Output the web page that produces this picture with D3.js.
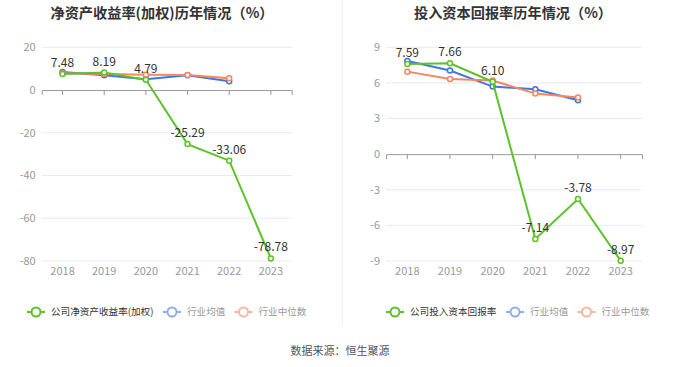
<!DOCTYPE html>
<html><head><meta charset="utf-8">
<script src="https://cdn.jsdelivr.net/npm/d3@7"></script>
<style>body{margin:0;background:#fff}svg{display:block;font-family:"Noto Sans CJK SC","Noto Sans",sans-serif}</style>
</head><body>
<svg id="c" width="680" height="367"></svg>
<script>
const years = ["2018","2019","2020","2021","2022","2023"];
const roeCompany = [7.48, 8.19, 4.79, -25.29, -33.06, -78.78];
const roeAvg = [8.4, 6.9, 5.0, 6.9, 4.1];
const roeMedian = [7.8, 7.5, 7.2, 7.0, 5.5];
const roicCompany = [7.59, 7.66, 6.10, -7.14, -3.78, -8.97];
const roicAvg = [7.85, 7.04, 5.69, 5.47, 4.54];
const roicMedian = [6.95, 6.34, 6.2, 5.1, 4.77];
const roeTicks = [-80, -60, -40, -20, 0, 20];
const roicTicks = [-9, -6, -3, 0, 3, 6, 9];

const GREEN = "#5cc22a", BLUE = "#3f76e4", ORANGE = "#f6875e";
const svg = d3.select("#c");

function panel(o) {
  const g = svg.append("g");
  const x = d3.scaleBand().domain(years).range([o.x0, o.x1]).padding(0);
  const y = d3.scaleLinear().domain([o.ticks[0], o.ticks[o.ticks.length-1]]).range([261, 47.3]);
  g.append("g").selectAll("line").data(o.ticks.filter(t => t !== 0)).join("line")
    .attr("x1", o.x0).attr("x2", o.x1).attr("y1", d => y(d)).attr("y2", d => y(d))
    .attr("stroke", "#e6eaf2").attr("stroke-width", 1);
  g.append("g").selectAll("text").data(o.ticks).join("text")
    .attr("x", o.x0 - 6).attr("y", d => y(d)).attr("dy", "0.35em")
    .attr("text-anchor", "end").attr("font-size", 11).attr("fill", "#999").text(d => d);
  const ax = g.append("g").attr("transform", `translate(0,${y(0)})`)
    .call(d3.axisBottom(x).tickSize(5).tickFormat(""));
  ax.select(".domain").attr("stroke", "#999");
  ax.selectAll(".tick line").attr("stroke", "#999");
  g.append("g").selectAll("text").data(years).join("text")
    .attr("x", d => x(d) + x.bandwidth()/2).attr("y", 275)
    .attr("text-anchor", "middle").attr("font-size", 11).attr("fill", "#999").text(d => d);
  const cx = (d, i) => x(years[i]) + x.bandwidth()/2;
  const series = [[o.avg, BLUE], [o.median, ORANGE], [o.company, GREEN]];
  series.forEach(([data, col]) => {
    const line = d3.line().x((d, i) => cx(d, i)).y(d => y(d));
    g.append("path").attr("d", line(data)).attr("fill", "none").attr("stroke", col).attr("stroke-width", 2);
    g.append("g").selectAll("circle").data(data).join("circle")
      .attr("cx", cx).attr("cy", d => y(d)).attr("r", 2.5)
      .attr("fill", "#fff").attr("stroke", col).attr("stroke-width", 1.5);
  });
  g.append("g").selectAll("text").data(o.company).join("text")
    .attr("x", cx).attr("y", d => y(d) - 7).attr("text-anchor", "middle")
    .attr("font-size", 12).attr("fill", "#333").text(d => d.toFixed(2));
  svg.append("text").attr("x", o.tx).attr("y", 18).attr("text-anchor", "middle")
    .attr("font-size", 14.2).attr("font-weight", "bold").attr("fill", "#333").text(o.title);
  const lg = svg.append("g");
  const items = [[o.label, GREEN, "#333"], ["行业均值", "#8eaef0", "#999"], ["行业中位数", "#f7b7a0", "#999"]];
  items.forEach(([t, c, tc], i) => {
    const lx = o.legendX[i];
    lg.append("line").attr("x1", lx).attr("x2", lx + 18).attr("y1", 312).attr("y2", 312).attr("stroke", c).attr("stroke-width", 2);
    lg.append("circle").attr("cx", lx + 9).attr("cy", 312).attr("r", 4.5).attr("fill", "#fff").attr("stroke", c).attr("stroke-width", 2);
    lg.append("text").attr("x", lx + 24).attr("y", 312).attr("dy", "0.35em").attr("font-size", 9.6).attr("fill", tc).text(t);
  });
}

panel({x0: 41.7, x1: 291.7, ticks: roeTicks, company: roeCompany, avg: roeAvg, median: roeMedian,
  title: "净资产收益率(加权)历年情况（%）", tx: 162, label: "公司净资产收益率(加权)", legendX: [27, 163, 234.5]});
panel({x0: 386, x1: 642, ticks: roicTicks, company: roicCompany, avg: roicAvg, median: roicMedian,
  title: "投入资本回报率历年情况（%）", tx: 513, label: "公司投入资本回报率", legendX: [386, 506, 577.5]});

svg.append("line").attr("x1", 342.5).attr("x2", 342.5).attr("y1", 0).attr("y2", 325).attr("stroke", "#eeeeee");
svg.append("text").attr("x", 340).attr("y", 351).attr("dy", "0.35em").attr("text-anchor", "middle")
  .attr("font-size", 11).attr("fill", "#555").text("数据来源：恒生聚源");
</script>
</body></html>
